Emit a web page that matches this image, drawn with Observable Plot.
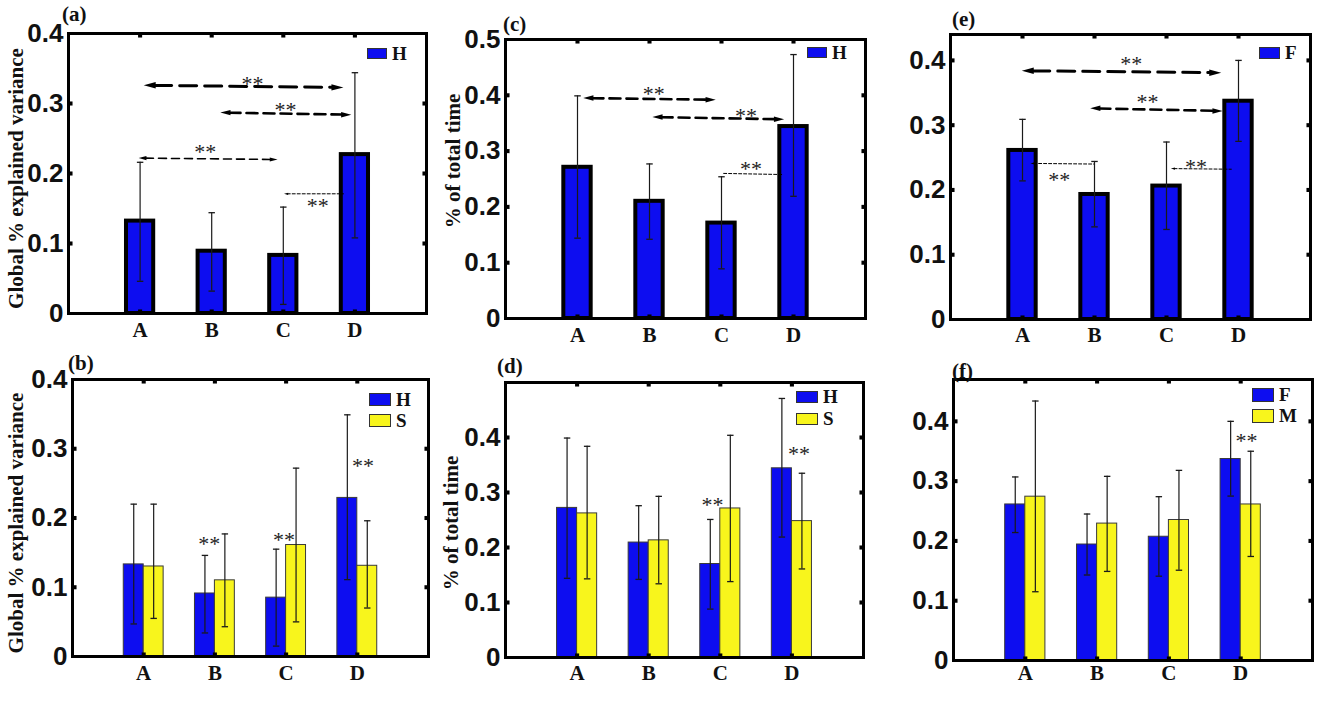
<!DOCTYPE html>
<html>
<head>
<meta charset="utf-8">
<script src="https://cdn.jsdelivr.net/npm/d3@7"></script>
<script src="https://cdn.jsdelivr.net/npm/@observablehq/plot@0.6"></script>
<style>
html, body { margin: 0; padding: 0; background: #fff; }
#root { position: relative; width: 1325px; height: 702px; overflow: hidden; background: #fff; }
.panel { position: absolute; }
.panel svg { overflow: visible; background: transparent; }
.tag { position: absolute; font-family: "Liberation Serif", "Times New Roman", serif; font-weight: bold; font-size: 21px; line-height: 21px; color: #111; }
.leg { position: absolute; display: flex; align-items: center; font-family: "Liberation Serif", "Times New Roman", serif; font-weight: bold; font-size: 19px; color: #111; }
.leg .sw { border: 1px solid #333; box-sizing: border-box; margin-right: 5px; }
</style>
</head>
<body>
<div id="root"></div>
<script>
// ---------- data ----------
const categories = ["A", "B", "C", "D"];
const ticks04 = [0, 0.1, 0.2, 0.3, 0.4];
const ticks05 = [0, 0.1, 0.2, 0.3, 0.4, 0.5];

// (a) global % explained variance, H
const aMean = [0.132, 0.089, 0.083, 0.227];
const aLow  = [0.046, 0.032, 0.013, 0.108];
const aHigh = [0.216, 0.144, 0.152, 0.344];

// (b) global % explained variance, H vs S
const bHMean = [0.133, 0.091, 0.085, 0.229];
const bHLow  = [0.047, 0.034, 0.015, 0.111];
const bHHigh = [0.220, 0.146, 0.155, 0.349];
const bSMean = [0.130, 0.110, 0.161, 0.131];
const bSLow  = [0.055, 0.043, 0.050, 0.070];
const bSHigh = [0.220, 0.177, 0.272, 0.196];

// (c) % of total time, H
const cMean = [0.271, 0.210, 0.171, 0.344];
const cLow  = [0.144, 0.142, 0.089, 0.219];
const cHigh = [0.399, 0.277, 0.254, 0.473];

// (d) % of total time, H vs S
const dHMean = [0.272, 0.209, 0.170, 0.344];
const dHLow  = [0.144, 0.142, 0.088, 0.219];
const dHHigh = [0.399, 0.276, 0.251, 0.471];
const dSMean = [0.262, 0.213, 0.271, 0.248];
const dSLow  = [0.143, 0.134, 0.138, 0.161];
const dSHigh = [0.384, 0.293, 0.404, 0.335];

// (e) F
const eMean = [0.261, 0.193, 0.206, 0.337];
const eLow  = [0.214, 0.143, 0.139, 0.275];
const eHigh = [0.309, 0.244, 0.274, 0.400];

// (f) F vs M
const fFMean = [0.261, 0.194, 0.207, 0.337];
const fFLow  = [0.214, 0.143, 0.141, 0.275];
const fFHigh = [0.307, 0.245, 0.274, 0.400];
const fMMean = [0.274, 0.229, 0.235, 0.261];
const fMLow  = [0.115, 0.149, 0.151, 0.174];
const fMHigh = [0.434, 0.308, 0.318, 0.350];

// significance annotations (x in category units, A = 1 ... D = 4)
const aArrows = [
  {x1: 1.05, y1: 0.326, x2: 3.84, y2: 0.323},
  {x1: 2.12, y1: 0.287, x2: 3.95, y2: 0.284},
  {x1: 0.98, y1: 0.222, x2: 2.92, y2: 0.220},
  {x1: 3.01, y1: 0.171, x2: 3.84, y2: 0.171}
];
const aStars = [{x: 2.57, y: 0.334}, {x: 3.03, y: 0.296}, {x: 1.91, y: 0.236}, {x: 3.48, y: 0.159}];
const bStars = [{x: 1.92, y: 0.169}, {x: 2.97, y: 0.174}, {x: 4.08, y: 0.281}];
const cArrows = [
  {x1: 1.08, y1: 0.395, x2: 2.92, y2: 0.392},
  {x1: 2.04, y1: 0.361, x2: 3.87, y2: 0.357},
  {x1: 3.03, y1: 0.260, x2: 3.85, y2: 0.258}
];
const cStars = [{x: 2.06, y: 0.410}, {x: 3.34, y: 0.371}, {x: 3.41, y: 0.276}];
const dStars = [{x: 2.89, y: 0.284}, {x: 4.10, y: 0.378}];
const eArrows = [
  {x1: 0.99, y1: 0.384, x2: 3.76, y2: 0.381},
  {x1: 1.94, y1: 0.326, x2: 3.78, y2: 0.322},
  {x1: 1.11, y1: 0.241, x2: 1.99, y2: 0.240},
  {x1: 3.06, y1: 0.233, x2: 3.90, y2: 0.232}
];
const eStars = [{x: 2.51, y: 0.400}, {x: 2.735, y: 0.342}, {x: 1.51, y: 0.222}, {x: 3.41, y: 0.241}];
const fStars = [{x: 4.08, y: 0.374}];

// ---------- styles ----------
const BLUE = "#0d0df0";
const YELLOW = "#f8f51c";
const SERIF = "Liberation Serif, Times New Roman, serif";
const SANS = "Liberation Sans, Arial, sans-serif";
const KIND = {
  long:  {sw: 3,   dash: "17,8", r: 4},
  mid:   {sw: 2.6, dash: "11,6", r: 3.4},
  short: {sw: 1.6, dash: "8,5",  r: 2.6},
  dot:   {sw: 1,   dash: "3,2",  r: 1.4}
};
const HEAD = {
  draw(ctx, size) {
    const u = Math.sqrt(size / Math.PI);
    const L = 3 * u, W = 1.6 * u;
    ctx.moveTo(0, 0); ctx.lineTo(-L, -W / 2); ctx.lineTo(-L, W / 2); ctx.closePath();
  }
};

function series(name, color, mean, low, high) { return {name, color, mean, low, high}; }

const panels = [
  {tag: "(a)", tagPos: [62, 4], region: [0, 0, 440, 350], frame: {l: 68, r: 426, t: 33, b: 313},
   ymax: 0.4, yTicks: ticks04, xPad: 9, yLabel: "Global % explained variance", yLabelDx: -52, yLabelDy: 5,
   series: [series("H", BLUE, aMean, aLow, aHigh)],
   arrows: aArrows, kinds: ["long", "mid", "short", "dot"], heads: ["both", "both", "both", "start"], stars: aStars,
   legend: {x: 367, cy: 53.5, w: 20, h: 11, gap: 21}},
  {tag: "(b)", tagPos: [68, 353], region: [0, 345, 440, 357], frame: {l: 72, r: 428, t: 379, b: 656},
   ymax: 0.4, yTicks: ticks04, xPad: 9, yLabel: "Global % explained variance", yLabelDx: -56, yLabelDy: 5,
   series: [series("H", BLUE, bHMean, bHLow, bHHigh), series("S", YELLOW, bSMean, bSLow, bSHigh)],
   arrows: [], kinds: [], heads: [], stars: bStars,
   legend: {x: 369, cy: 399.5, w: 22, h: 13, gap: 21}},
  {tag: "(c)", tagPos: [503, 14], region: [440, 0, 440, 350], frame: {l: 505, r: 865, t: 39, b: 318},
   ymax: 0.5, yTicks: ticks05, xPad: 9, yLabel: "% of total time", yLabelDx: -52, yLabelDy: -18,
   series: [series("H", BLUE, cMean, cLow, cHigh)],
   arrows: cArrows, kinds: ["mid", "mid", "dot"], heads: ["both", "both", "none"], stars: cStars,
   legend: {x: 807, cy: 52.5, w: 20, h: 11, gap: 21}},
  {tag: "(d)", tagPos: [497, 356], region: [440, 345, 440, 357], frame: {l: 505, r: 863, t: 382, b: 657},
   ymax: 0.5, yTicks: ticks04, xPad: 8, yLabel: "% of total time", yLabelDx: -54, yLabelDy: 3,
   series: [series("H", BLUE, dHMean, dHLow, dHHigh), series("S", YELLOW, dSMean, dSLow, dSHigh)],
   arrows: [], kinds: [], heads: [], stars: dStars,
   legend: {x: 796, cy: 397, w: 22, h: 12, gap: 21.5}},
  {tag: "(e)", tagPos: [952, 9], region: [880, 0, 445, 350], frame: {l: 950, r: 1310, t: 34, b: 319},
   ymax: 0.44, yTicks: ticks04, xPad: 8, yLabel: null,
   series: [series("F", BLUE, eMean, eLow, eHigh)],
   arrows: eArrows, kinds: ["long", "mid", "dot", "dot"], heads: ["both", "both", "start", "start"], stars: eStars,
   legend: {x: 1259, cy: 53, w: 21, h: 12, gap: 21}},
  {tag: "(f)", tagPos: [952, 361], region: [880, 345, 445, 357], frame: {l: 953, r: 1312, t: 379, b: 660},
   ymax: 0.47, yTicks: ticks04, xPad: 5, yLabel: null,
   series: [series("F", BLUE, fFMean, fFLow, fFHigh), series("M", YELLOW, fMMean, fMLow, fMHigh)],
   arrows: [], kinds: [], heads: [], stars: fStars,
   legend: {x: 1252, cy: 395, w: 22, h: 14, gap: 20.5}}
];

const root = document.getElementById("root");

for (const p of panels) {
  const [rx, ry, rw, rh] = p.region;
  const single = p.series.length === 1;
  const bw = single ? 0.19 : 0.28;
  const rows = [];
  p.series.forEach((s, si) => {
    s.mean.forEach((v, i) => {
      const c = i + 1;
      let x1, x2;
      if (single) { x1 = c - bw; x2 = c + bw; }
      else if (si === 0) { x1 = c - bw; x2 = c; }
      else { x1 = c; x2 = c + bw; }
      rows.push({cat: categories[i], s: s.name, color: s.color, v, lo: s.low[i], hi: s.high[i], x1, x2, xc: (x1 + x2) / 2});
    });
  });
  const cap = 0.045;
  const inner = p.yTicks.filter(t => t > 0 && t < p.ymax);
  const marks = [
    Plot.rect(rows, {x1: "x1", x2: "x2", y1: () => 0, y2: "v", fill: "color",
      stroke: single ? "#000" : "#3a3a3a", strokeWidth: single ? 4 : 1}),
    Plot.ruleX(rows, {x: "xc", y1: "lo", y2: "hi", stroke: "#1a1a1a", strokeWidth: 1.2}),
    Plot.link(rows, {x1: d => d.xc - cap, x2: d => d.xc + cap, y1: "hi", y2: "hi", stroke: "#1a1a1a", strokeWidth: 1.3}),
    Plot.link(rows, {x1: d => d.xc - cap, x2: d => d.xc + cap, y1: "lo", y2: "lo", stroke: "#1a1a1a", strokeWidth: 1.3})
  ];
  p.arrows.forEach((a, i) => {
    const k = KIND[p.kinds[i]];
    const h = p.heads[i];
    const L = 3 * k.r;
    const hasStart = h === "both" || h === "start";
    const hasEnd = h === "both" || h === "end";
    marks.push(Plot.arrow([a], {x1: "x1", y1: "y1", x2: "x2", y2: "y2", headLength: 0,
      insetStart: hasStart ? L - 1 : 0, insetEnd: hasEnd ? L - 1 : 0,
      stroke: "#000", strokeWidth: k.sw, strokeDasharray: k.dash}));
    if (hasEnd) marks.push(Plot.dot([a], {x: "x2", y: "y2", symbol: HEAD, r: k.r, fill: "#000", stroke: "none", rotate: 0}));
    if (hasStart) marks.push(Plot.dot([a], {x: "x1", y: "y1", symbol: HEAD, r: k.r, fill: "#000", stroke: "none", rotate: 180}));
  });
  marks.push(Plot.text(p.stars, {x: "x", y: "y", text: () => "**", fontSize: 22, fontFamily: SERIF, fill: "#222", dy: 4}));
  // inward tick marks on all four sides
  marks.push(
    Plot.dot(inner, {x: () => 0, y: d => d, symbol: "square", r: 2.3, fill: "#000", dx: 2}),
    Plot.dot(inner, {x: () => 5, y: d => d, symbol: "square", r: 2.3, fill: "#000", dx: -2}),
    Plot.dot([1, 2, 3, 4], {x: d => d, y: () => p.ymax, symbol: "square", r: 2.3, fill: "#000", dy: 2}),
    Plot.dot([1, 2, 3, 4], {x: d => d, y: () => 0, symbol: "square", r: 2.3, fill: "#000", dy: -2})
  );
  marks.push(Plot.frame({stroke: "#000", strokeWidth: 3}));
  marks.push(Plot.axisY({ticks: p.yTicks, tickSize: 0, tickPadding: 5, tickFormat: d => String(d), label: null,
    fontSize: 26, fontWeight: "bold", fontFamily: SANS, fill: "#111"}));
  marks.push(Plot.axisX({ticks: [1, 2, 3, 4], tickSize: 0, tickPadding: p.xPad, tickFormat: d => categories[d - 1], label: null,
    fontSize: 21, fontWeight: "bold", fontFamily: SERIF, fill: "#111"}));
  if (p.yLabel) {
    marks.push(Plot.text([p.yLabel], {frameAnchor: "left", textAnchor: "middle", lineAnchor: "middle", rotate: -90,
      dx: p.yLabelDx, dy: p.yLabelDy,
      fontSize: 21, fontWeight: "bold", fontFamily: SERIF, fill: "#111"}));
  }
  const chart = Plot.plot({
    width: rw, height: rh,
    marginLeft: p.frame.l - rx, marginRight: rx + rw - p.frame.r,
    marginTop: p.frame.t - ry, marginBottom: ry + rh - p.frame.b,
    x: {type: "linear", domain: [0, 5]},
    y: {type: "linear", domain: [0, p.ymax]},
    style: {background: "transparent", overflow: "visible"},
    marks
  });
  const div = document.createElement("div");
  div.className = "panel";
  div.style.left = rx + "px";
  div.style.top = ry + "px";
  div.appendChild(chart);
  root.appendChild(div);

  // panel tag
  const tag = document.createElement("div");
  tag.className = "tag";
  tag.textContent = p.tag;
  tag.style.left = p.tagPos[0] + "px";
  tag.style.top = p.tagPos[1] + "px";
  root.appendChild(tag);

  // legend
  p.series.forEach((s, si) => {
    const lg = document.createElement("div");
    lg.className = "leg";
    const cy = p.legend.cy + si * p.legend.gap;
    lg.style.left = p.legend.x + "px";
    lg.style.top = (cy - 11) + "px";
    lg.style.height = "22px";
    const sw = document.createElement("div");
    sw.className = "sw";
    sw.style.width = p.legend.w + "px";
    sw.style.height = p.legend.h + "px";
    sw.style.background = s.color;
    const tx = document.createElement("span");
    tx.textContent = s.name;
    lg.appendChild(sw);
    lg.appendChild(tx);
    root.appendChild(lg);
  });
}
</script>
</body>
</html>
